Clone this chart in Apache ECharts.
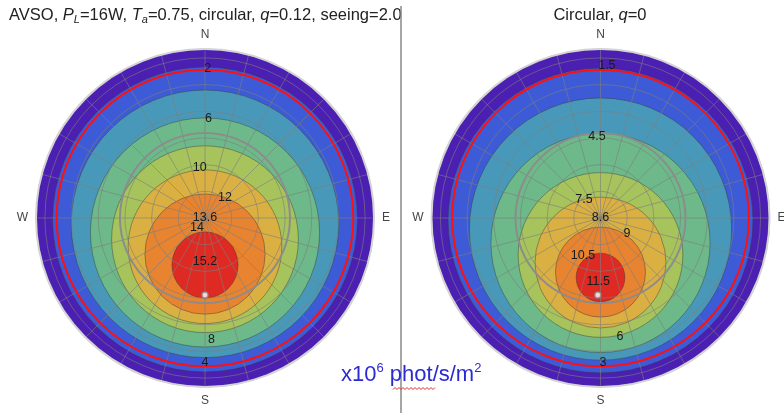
<!DOCTYPE html>
<html><head><meta charset="utf-8">
<script src="https://cdn.jsdelivr.net/npm/echarts@6/dist/echarts.min.js"></script>
<style>html,body{margin:0;padding:0;background:#fff}#c{width:784px;height:413px}</style>
</head><body><div id="c"></div>
<script>
// ---- data (radius axis = zenith angle in degrees, angle axis = azimuth, N=0, E=90) ----
// Left panel contours (x10^6 phot/s/m^2): level, centre offset toward S, contour radius
const leftLevels   = [2, 4, 6, 8, 10, 12, 14];
const leftOffsets  = [0.84, 3.27, 8.13, 11.93, 16.15, 20.27, 26.39];
const leftRadii    = [85.7, 75.2, 64.4, 52.5, 43.2, 33.8, 18.6];
const leftLabels   = ['2', '6', '10', '12', '13.6', '14', '15.2', '8', '4'];
const leftLabelAt  = [[83.9, 1], [55.7, 2], [28.3, 354], [15.9, 45], [0, 0], [7.2, 219], [24.7, 180], [68.6, 177], [81.0, 180]];
const leftMarker   = [43.3, 180];

// Right panel contours
const rightLevels  = [1.5, 3, 4.5, 6, 7.5, 9, 10.5];
const rightOffsets = [1.37, 6.23, 14.04, 20.79, 25.02, 30.4, 33.46];
const rightRadii   = [85.7, 73.7, 61.6, 46.3, 36.8, 25.3, 13.7];
const rightLabels  = ['1.5', '4.5', '7.5', '8.6', '9', '10.5', '11.5', '6', '3'];
const rightLabelAt = [[85.5, 2.4], [45.6, 357.5], [13.7, 317.5], [0, 0], [17.4, 121], [23.5, 204.7], [35.5, 182], [67.8, 170.7], [81.5, 179]];
const rightMarker  = [43.3, 182];

// reference circles: elevation limit (red) and gray zenith circle
const refCircles   = [83.4, 47.8];
const compass      = ['N', 'E', 'S', 'W'];
const zenithMax    = 95;
const zenithStep   = 15;

// ---- styles ----
const bandColors = ['#4a1fb2', '#3d5bd6', '#4899b9', '#6db98a', '#a7c35b', '#dbb042', '#e8842f', '#de2a23'];
const refColors  = ['#ff1010', '#8c8c8c'];
const gridLine   = {color: 'rgba(125,125,125,0.6)', width: 1};
const FONT = 'Liberation Sans, Arial, sans-serif';

function axesFor(i) {
  return {
    angle: {
      polarIndex: i, type: 'value', min: 0, max: 360, interval: 15, startAngle: 90, clockwise: true, z: 2,
      axisLine: {show: true, lineStyle: {color: '#d4d4d4', width: 2}},
      axisTick: {show: false},
      axisLabel: {margin: 8, color: '#444', fontSize: 12, fontFamily: FONT,
        formatter: v => (v % 90 === 0 && v < 360) ? compass[v / 90] : ''},
      splitLine: {show: true, lineStyle: gridLine}
    },
    radius: {
      polarIndex: i, type: 'value', min: 0, max: zenithMax, interval: zenithStep, z: 2,
      axisLine: {show: false}, axisTick: {show: false}, axisLabel: {show: false},
      splitLine: {show: true, lineStyle: gridLine}
    }
  };
}

function pxRadius(api, r) {
  const o = api.coord([0, 0]);
  const e = api.coord([r, 90]);
  return Math.hypot(e[0] - o[0], e[1] - o[1]);
}

function fillSeries(i, offsets, radii) {
  const data = [[0, 0, zenithMax, 0]].concat(offsets.map((o, k) => [o, 180, radii[k], k + 1]));
  return {
    type: 'custom', coordinateSystem: 'polar', polarIndex: i, z: 1, silent: true, data,
    renderItem(params, api) {
      const c = api.coord([api.value(0), api.value(1)]);
      const idx = api.value(3);
      return {type: 'circle', shape: {cx: c[0], cy: c[1], r: pxRadius(api, api.value(2))},
        style: {fill: bandColors[idx], stroke: idx ? 'rgba(55,55,55,0.55)' : 'none', lineWidth: 0.8}};
    }
  };
}

function refSeries(i) {
  return {
    type: 'custom', coordinateSystem: 'polar', polarIndex: i, z: 3, silent: true,
    data: refCircles.map((r, k) => [0, 0, r, k]),
    renderItem(params, api) {
      const c = api.coord([0, 0]);
      const k = api.value(3);
      return {type: 'circle', shape: {cx: c[0], cy: c[1], r: pxRadius(api, api.value(2))},
        style: {fill: 'none', stroke: refColors[k], lineWidth: 2}};
    }
  };
}

function labelSeries(i, texts, at) {
  return {
    type: 'custom', coordinateSystem: 'polar', polarIndex: i, z: 5, silent: true,
    data: at.map((p, k) => [p[0], p[1], k]),
    renderItem(params, api) {
      const p = api.coord([api.value(0), api.value(1)]);
      return {type: 'text', x: p[0], y: p[1],
        style: {text: texts[api.value(2)], fill: '#1a1a1a', font: '12.5px ' + FONT, align: 'center', verticalAlign: 'middle'}};
    }
  };
}

function markerSeries(i, m) {
  return {type: 'scatter', coordinateSystem: 'polar', polarIndex: i, z: 6, silent: true,
    symbol: 'circle', symbolSize: 6, data: [m],
    itemStyle: {color: '#ffffff', borderColor: '#8a8a8a', borderWidth: 1.5}};
}

const a0 = axesFor(0), a1 = axesFor(1);

// spell-check squiggle under "phot"
const squiggle = [];
for (let x = 393, k = 0; x <= 435; x += 2, k++) squiggle.push([x, k % 2 ? 387.5 : 389.5]);

const option = {
  animation: false,
  backgroundColor: '#ffffff',
  polar: [{center: [205, 218], radius: 169}, {center: [600.5, 218], radius: 169}],
  angleAxis: [a0.angle, a1.angle],
  radiusAxis: [a0.radius, a1.radius],
  series: [
    fillSeries(0, leftOffsets, leftRadii), fillSeries(1, rightOffsets, rightRadii),
    refSeries(0), refSeries(1),
    labelSeries(0, leftLabels, leftLabelAt), labelSeries(1, rightLabels, rightLabelAt),
    markerSeries(0, leftMarker), markerSeries(1, rightMarker)
  ],
  graphic: [
    {type: 'text', x: 9, y: 15, z: 10,
      style: {text: 'AVSO, {i|P}{s|L}=16W, {i|T}{s|a}=0.75, circular, {i|q}=0.12, seeing=2.0"',
        fill: '#222', fontSize: 16.5, fontFamily: FONT, lineHeight: 21, align: 'left', verticalAlign: 'middle',
        rich: {i: {fontStyle: 'italic', fontSize: 16.5, lineHeight: 21, fontFamily: FONT},
               s: {fontStyle: 'italic', fontSize: 11, lineHeight: 12, verticalAlign: 'bottom', fontFamily: FONT}}}},
    {type: 'rect', z: 20, shape: {x: 402, y: 0, width: 30, height: 30}, style: {fill: '#ffffff'}},
    {type: 'text', x: 600, y: 15, z: 30,
      style: {text: 'Circular, {i|q}=0', fill: '#222', fontSize: 16.5, fontFamily: FONT, lineHeight: 21,
        align: 'center', verticalAlign: 'middle',
        rich: {i: {fontStyle: 'italic', fontSize: 16.5, lineHeight: 21, fontFamily: FONT}}}},
    {type: 'line', z: 30, shape: {x1: 401, y1: 6, x2: 401, y2: 413}, style: {stroke: '#888', lineWidth: 1.5}},
    {type: 'text', x: 341, y: 375, z: 30,
      style: {text: '{b|x10}{p|6}{b| phot/s/m}{p|2}', fill: '#2b2bd4', fontSize: 22, fontFamily: FONT,
        align: 'left', verticalAlign: 'middle',
        rich: {b: {fontSize: 22, lineHeight: 26, fontFamily: FONT, fill: '#2b2bd4'},
               p: {fontSize: 13, lineHeight: 14, verticalAlign: 'top', fontFamily: FONT, fill: '#2b2bd4'}}}},
    {type: 'polyline', z: 30, shape: {points: squiggle}, style: {stroke: '#e03030', lineWidth: 1, fill: 'none'}}
  ]
};

const chart = echarts.init(document.getElementById('c'), null, {renderer: 'canvas'});
chart.setOption(option);
</script></body></html>
